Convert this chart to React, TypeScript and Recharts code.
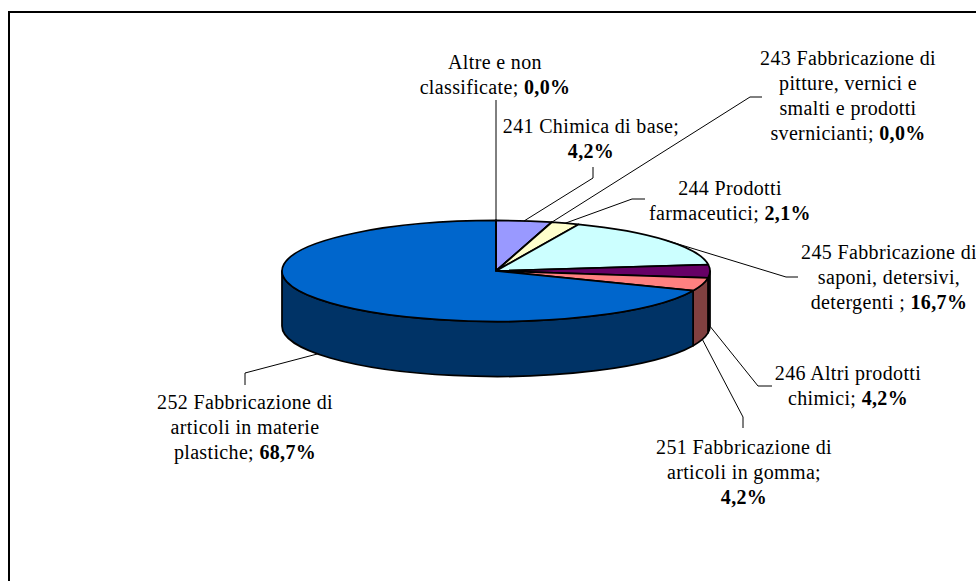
import { PieChart, Pie, Cell } from "recharts";

const names = [
  "241 Chimica di base",
  "243 Fabbricazione di pitture, vernici e smalti e prodotti svernicianti",
  "244 Prodotti farmaceutici",
  "245 Fabbricazione di saponi, detersivi, detergenti",
  "246 Altri prodotti chimici",
  "251 Fabbricazione di articoli in gomma",
  "252 Fabbricazione di articoli in materie plastiche",
  "Altre e non classificate",
];
const shares = [4.2, 0, 2.1, 16.7, 4.2, 4.2, 68.7, 0];
const data = names.map((name, i) => ({ name, value: shares[i] }));

const TOP_COLORS = ["#9999FF", "#993366", "#FFFFCC", "#CCFFFF", "#660066", "#FF8080", "#0066CC", "#CCCCFF"];
const WALL_COLORS = ["#4D4D80", "#4D1A33", "#808066", "#668080", "#330033", "#804040", "#003366", "#666680"];

// text of each label, the percentage is appended in bold after the last line
const labelLines = [
  ["241 Chimica di base;", ""],
  ["243 Fabbricazione di", "pitture, vernici e", "smalti e prodotti", "svernicianti;"],
  ["244 Prodotti", "farmaceutici;"],
  ["245 Fabbricazione di", "saponi, detersivi,", "detergenti ;"],
  ["246 Altri prodotti", "chimici;"],
  ["251 Fabbricazione di", "articoli in gomma;", ""],
  ["252 Fabbricazione di", "articoli in materie", "plastiche;"],
  ["Altre e non", "classificate;"],
];

// label placement: text centre, first baseline, leader elbow and leader end
const labelBoxes = [
  { x: 591, y: 133, elbow: [593, 178], end: [593, 167] },
  { x: 848, y: 65, elbow: [750, 97], end: [762, 97] },
  { x: 730, y: 195, elbow: [632, 199], end: [645, 199] },
  { x: 889, y: 259, elbow: [786, 277], end: [798, 277] },
  { x: 848, y: 380, elbow: [758, 386], end: [772, 386] },
  { x: 744, y: 454, elbow: [743, 417], end: [743, 428] },
  { x: 245, y: 409, elbow: [245, 373], end: [245, 385] },
  { x: 495, y: 69, elbow: [496, 160], end: [496, 100] },
];

const CX = 496;
const CY = 271;
const RADIUS = 214;
const TILT = 0.236;
const DEPTH = 55;
const LINE_HEIGHT = 25;
const RAD = Math.PI / 180;

const onRim = (cx: number, cy: number, r: number, deg: number) => [
  cx + r * Math.cos(deg * RAD),
  cy - r * TILT * Math.sin(deg * RAD),
];

const SliceShape = (props: any) => {
  const { cx, cy, outerRadius: r, startAngle, endAngle, fill, index } = props;
  const ry = r * TILT;
  const [sx, sy] = onRim(cx, cy, r, startAngle);
  const [ex, ey] = onRim(cx, cy, r, endAngle);
  const large = Math.abs(startAngle - endAngle) > 180 ? 1 : 0;
  const top = `M${cx},${cy} L${sx},${sy} A${r},${ry} 0 ${large} 1 ${ex},${ey} Z`;

  // only the part of the rim in front of the centre shows a wall
  const wallStart = Math.min(startAngle, 0);
  const wallEnd = Math.max(endAngle, -180);
  let wall = null;
  if (wallStart > wallEnd) {
    const [ax, ay] = onRim(cx, cy, r, wallStart);
    const [bx, by] = onRim(cx, cy, r, wallEnd);
    const d = `M${ax},${ay} A${r},${ry} 0 0 1 ${bx},${by} L${bx},${by + DEPTH} A${r},${ry} 0 0 0 ${ax},${ay + DEPTH} Z`;
    wall = <path d={d} fill={WALL_COLORS[index]} stroke="#000" strokeWidth={1.75} strokeLinejoin="round" />;
  }
  return (
    <g>
      {wall}
      <path d={top} fill={fill} stroke="#000" strokeWidth={1.75} strokeLinejoin="round" />
    </g>
  );
};

const SliceLabel = (props: any) => {
  const { cx, cy, outerRadius: r, midAngle, index } = props;
  const box = labelBoxes[index];
  const lines = labelLines[index];
  const share = `${shares[index].toFixed(1).replace(".", ",")}%`;
  let [px, py] = onRim(cx, cy, r, midAngle);
  // leaders of the front slices leave from the bottom of the wall
  if (Math.sin(midAngle * RAD) < 0.02) {
    py += DEPTH;
  }
  const points = index === 7
    ? `${px},${py} ${box.end[0]},${box.end[1]}`
    : `${px},${py} ${box.elbow[0]},${box.elbow[1]} ${box.end[0]},${box.end[1]}`;
  return (
    <g>
      <polyline points={points} fill="none" stroke="#000" strokeWidth={1} />
      <text x={box.x} y={box.y} textAnchor="middle" fontFamily="Liberation Serif" fontSize={20} letterSpacing={0.35} fill="#000">
        {lines.map((line, i) => {
          const last = i === lines.length - 1;
          return (
            <tspan key={i} x={box.x} y={box.y + i * LINE_HEIGHT}>
              {line}
              {last && line ? " " : ""}
              {last && <tspan fontWeight="bold">{share}</tspan>}
            </tspan>
          );
        })}
      </text>
    </g>
  );
};

export default function App() {
  return (
    <div style={{ position: "absolute", left: 0, top: 0, width: 976, height: 581, overflow: "hidden", background: "#fff" }}>
      <div style={{ position: "absolute", left: 8, top: 11, width: 976, height: 581, borderLeft: "2px solid #000", borderTop: "2px solid #000" }} />
      <div style={{ position: "absolute", left: 0, top: 0 }}>
        <PieChart width={976} height={581} margin={{ top: 0, right: 0, bottom: 0, left: 0 }}>
          <Pie
            data={data}
            dataKey="value"
            nameKey="name"
            cx={CX}
            cy={CY}
            innerRadius={0}
            outerRadius={RADIUS}
            startAngle={90}
            endAngle={-270}
            paddingAngle={0}
            isAnimationActive={false}
            shape={SliceShape}
            label={SliceLabel}
            labelLine={false}
          >
            {data.map((entry, index) => (
              <Cell key={entry.name} fill={TOP_COLORS[index]} />
            ))}
          </Pie>
        </PieChart>
      </div>
    </div>
  );
}
